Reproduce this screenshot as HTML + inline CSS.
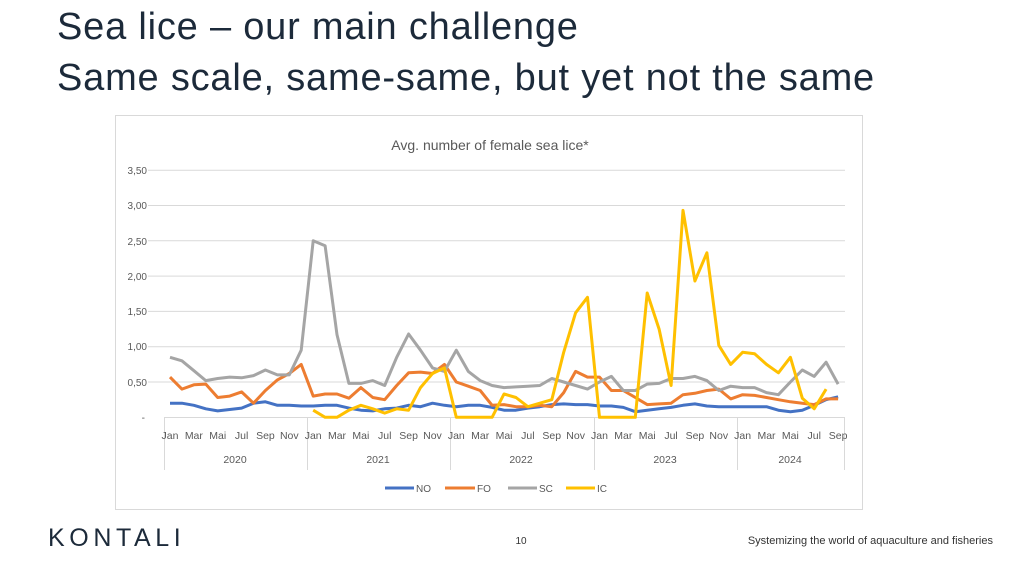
<!DOCTYPE html>
<html><head><meta charset="utf-8"><style>
body{margin:0;width:1024px;height:564px;background:#fff;overflow:hidden;font-family:"Liberation Sans",sans-serif;}
.t{position:absolute;left:57px;font-size:38px;letter-spacing:0.8px;color:#1c2a3a;white-space:nowrap;}
</style></head><body>
<div class="t" style="top:6px">Sea lice – our main challenge</div>
<div class="t" style="top:57px">Same scale, same-same, but yet not the same</div>
<svg id="s" width="1024" height="564" style="position:absolute;left:0;top:0" font-family="Liberation Sans, sans-serif">
<rect x="115.5" y="115.5" width="747" height="394" fill="none" stroke="#d9d9d9"/>
<text x="490" y="150" text-anchor="middle" font-size="14" fill="#595959">Avg. number of female sea lice*</text>
<g id="grid" stroke="#d9d9d9" stroke-width="1"></g>
<g font-size="10" fill="#595959" text-anchor="end">
<text x="147" y="174">3,50</text><text x="147" y="209">3,00</text><text x="147" y="245">2,50</text><text x="147" y="280">2,00</text><text x="147" y="315">1,50</text><text x="147" y="350">1,00</text><text x="147" y="386">0,50</text><text x="145" y="421">-</text>
</g>
<g id="mon" font-size="10.5" fill="#595959" text-anchor="middle"></g>
<g font-size="10.5" fill="#595959" text-anchor="middle">
<text x="235" y="463">2020</text><text x="378" y="463">2021</text><text x="521" y="463">2022</text><text x="665" y="463">2023</text><text x="790" y="463">2024</text>
</g>
<g id="ser" fill="none" stroke-width="3" stroke-linejoin="round"></g>
<g font-size="10" fill="#595959">
<line x1="385" y1="488" x2="414" y2="488" stroke="#4472c4" stroke-width="3"/><text x="416" y="492">NO</text>
<line x1="445" y1="488" x2="475" y2="488" stroke="#ed7d31" stroke-width="3"/><text x="477" y="492">FO</text>
<line x1="508" y1="488" x2="537" y2="488" stroke="#a5a5a5" stroke-width="3"/><text x="539" y="492">SC</text>
<line x1="566" y1="488" x2="595" y2="488" stroke="#ffc000" stroke-width="3"/><text x="597" y="492">IC</text>
</g>
<text x="48" y="546" font-size="25" fill="#1c2a3a" letter-spacing="4.6">KONTALI</text>
<text x="521" y="544" font-size="10" fill="#333" text-anchor="middle">10</text>
<text x="993" y="544" font-size="11" fill="#333" text-anchor="end">Systemizing the world of aquaculture and fisheries</text>
</svg>
<script>
var ns="http://www.w3.org/2000/svg";
function el(p,n,a,t){var e=document.createElementNS(ns,n);for(var k in a)e.setAttribute(k,a[k]);if(t)e.textContent=t;document.getElementById(p).appendChild(e);}
var X0=170,DX=11.93;function X(i){return X0+i*DX;}function Y(v){return 417.3-v*70.6;}
for(var v=0.5;v<=3.51;v+=0.5)el("grid","line",{x1:148,x2:845,y1:Y(v),y2:Y(v)});
el("grid","line",{x1:164,x2:845,y1:417.5,y2:417.5});
[164,307,450,594,737,844].forEach(function(x){el("grid","line",{x1:x+.5,x2:x+.5,y1:417,y2:470});});
var mn=["Jan","Mar","Mai","Jul","Sep","Nov"];
for(var i=0;i<57;i+=2)el("mon","text",{x:X(i),y:439},mn[(i%12)/2]);
var NO=[.20,.20,.17,.12,.09,.11,.13,.20,.22,.17,.17,.16,.16,.17,.17,.13,.10,.09,.12,.13,.17,.15,.20,.17,.15,.17,.17,.14,.10,.10,.13,.15,.18,.19,.18,.18,.16,.16,.14,.08,.10,.12,.14,.17,.19,.16,.15,.15,.15,.15,.15,.10,.08,.10,.17,.25,.29];
var FO=[.57,.40,.46,.47,.28,.30,.36,.20,.38,.53,.62,.75,.30,.33,.33,.27,.42,.28,.25,.45,.63,.64,.62,.75,.50,.44,.38,.17,.18,.15,.15,.17,.15,.35,.65,.57,.57,.38,.38,.28,.18,.19,.20,.32,.34,.38,.40,.26,.32,.31,.28,.25,.22,.20,.18,.26,.26];
var SC=[.85,.80,.66,.52,.55,.57,.56,.59,.67,.60,.60,.95,2.50,2.43,1.17,.48,.48,.52,.45,.85,1.18,.95,.70,.65,.95,.65,.52,.45,.42,.43,.44,.45,.55,.50,.45,.40,.50,.58,.38,.38,.47,.48,.55,.55,.58,.52,.38,.44,.42,.42,.35,.32,.50,.67,.58,.78,.47];
var IC=[null,null,null,null,null,null,null,null,null,null,null,null,.10,0,0,.10,.17,.12,.06,.12,.10,.42,.62,.70,0,0,0,0,.33,.28,.15,.20,.25,.92,1.48,1.70,0,0,0,0,1.76,1.25,.45,2.93,1.93,2.33,1.02,.75,.92,.90,.75,.63,.85,.27,.12,.40,null];
function line(d,c){var p=[];d.forEach(function(v,i){if(v!==null)p.push(X(i).toFixed(1)+","+Y(v).toFixed(1));});el("ser","polyline",{points:p.join(" "),stroke:c});}
line(NO,"#4472c4");line(FO,"#ed7d31");line(SC,"#a5a5a5");line(IC,"#ffc000");
</script>
</body></html>
